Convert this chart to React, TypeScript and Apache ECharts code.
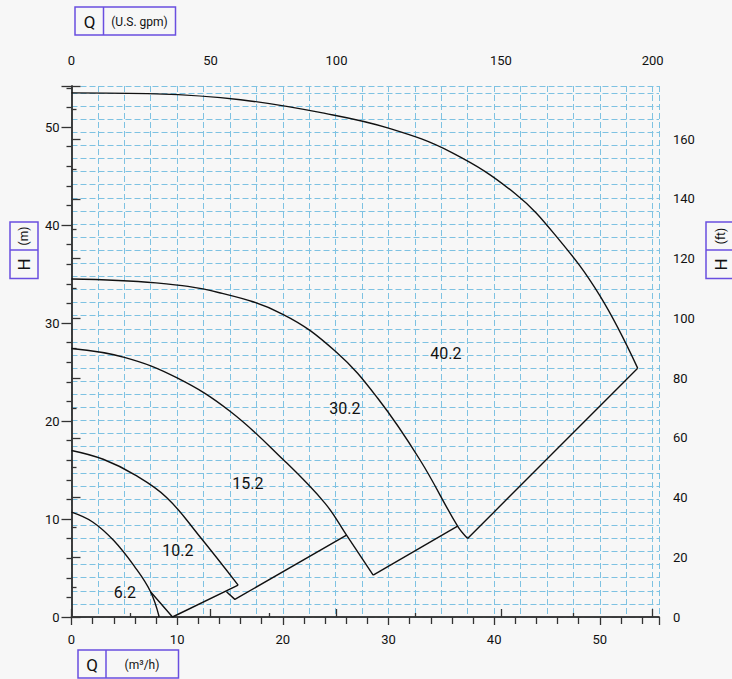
import React, { useEffect, useRef } from "react";
import * as echarts from "echarts";

// Bottom axis: flow Q in m³/h
const qTicks = [0, 10, 20, 30, 40, 50];
// Top axis: flow Q in U.S. gpm, with their positions on the m³/h scale
const gpmMajor = [0, 50, 100, 150, 200];
const gpmMajorAt = [0, 13.15, 25.08, 40.64, 55.0];
const gpmMinorAt = [5.52, 18.68, 32.5, 47.45];
// Left axis H (m), right axis H (ft)
const hTicks = [0, 10, 20, 30, 40, 50];
const ftTicks = [0, 20, 40, 60, 80, 100, 120, 140, 160];

// Pump curves [Q m³/h, H m]
const curve62 = [[0, 10.7], [2, 9.7], [4, 7.8], [6, 5.1], [7.48, 2.58], [8.3, 0]];
const curve102 = [[0, 17.0], [3, 16.1], [6, 14.5], [9, 12.2], [12, 8.4], [15.77, 3.26]];
const curve152 = [[0, 27.4], [5, 26.5], [10, 24.4], [15, 21.0], [20, 16.1], [24, 11.6], [26.03, 8.35], [28.55, 4.28]];
const curve302 = [[0, 34.5], [8, 34.1], [14, 33.1], [20, 30.9], [25, 27.1], [29, 22.3], [33, 16.0], [36.54, 9.27], [37.49, 8.01]];
const curve402 = [[0, 53.5], [8, 53.4], [16, 52.8], [24, 51.4], [30, 49.9], [36, 47.4], [42, 43.2], [46, 38.7], [50, 32.8], [53.58, 25.4]];

// Connecting lines between curve ends [Q, H]
const link1 = [[7.48, 2.58], [9.56, 0], [15.77, 3.26]];
const link2 = [[14.67, 2.58], [15.46, 1.8], [26.03, 8.35]];
const link3 = [[28.55, 4.28], [36.54, 9.27]];
const link4 = [[37.49, 8.01], [53.58, 25.4]];

// Curve labels [Q, H, text]
const curveLabels: [number, number, string][] = [
  [5.05, 2.55, "6.2"],
  [10.06, 6.82, "10.2"],
  [16.69, 13.65, "15.2"],
  [25.87, 21.28, "30.2"],
  [35.43, 26.88, "40.2"],
];

const Q_MAX = 55.6;
const H_MAX = 54.2;
const FT_MAX = 177.8;
const GRID_ROWS = 40.53;

const FONT = "Roboto, 'DejaVu Sans', sans-serif";
const INK = "#111";
const GRIDC = "#7ec2e2";
const BOX = "#6a4fe0";

export default function App() {
  const ref = useRef<HTMLDivElement>(null);
  useEffect(() => {
    if (!ref.current) return;
    const chart = echarts.init(ref.current, undefined, { renderer: "svg" });
    const axisLine = { show: true, lineStyle: { color: "#333", width: 1.5 } };
    const label = { color: INK, fontSize: 13, fontFamily: FONT };
    const curveSeries = (data: number[][]) => ({
      type: "line",
      xAxisIndex: 0,
      yAxisIndex: 0,
      data,
      smooth: 0.4,
      symbol: "none",
      lineStyle: { color: INK, width: 1.4 },
      silent: true,
      z: 5,
    });
    const linkSeries = (data: number[][]) => ({
      type: "line",
      xAxisIndex: 0,
      yAxisIndex: 0,
      data,
      symbol: "none",
      lineStyle: { color: INK, width: 1.4 },
      silent: true,
      z: 5,
    });
    const boxText = (text: string, x: number, y: number, size: number, rot = 0) => ({
      type: "text",
      x,
      y,
      rotation: rot,
      style: { text, fill: INK, fontSize: size, fontFamily: FONT, align: "center", verticalAlign: "middle" },
    });
    const rect = (x: number, y: number, w: number, h: number) => ({
      type: "rect",
      shape: { x, y, width: w, height: h },
      style: { fill: "none", stroke: BOX, lineWidth: 1.5 },
    });
    const line = (x1: number, y1: number, x2: number, y2: number) => ({
      type: "line",
      shape: { x1, y1, x2, y2 },
      style: { stroke: BOX, lineWidth: 1.5 },
    });

    chart.setOption({
      animation: false,
      backgroundColor: "#f7f7f7",
      grid: { left: 71.5, right: 73, top: 86, bottom: 62, containLabel: false, outerBoundsMode: "none" },
      xAxis: [
        {
          type: "value",
          position: "bottom",
          min: 0,
          max: Q_MAX,
          interval: 10,
          axisLine,
          axisTick: { show: true, length: 8, lineStyle: { color: "#333", width: 1.3 } },
          minorTick: { show: true, splitNumber: 5, length: 7, lineStyle: { color: "#333", width: 1.3 } },
          axisLabel: { ...label, margin: 16, showMaxLabel: false, formatter: (v: number) => (qTicks.includes(v) ? String(v) : "") },
          splitLine: { show: false },
        },
        {
          type: "value",
          position: "top",
          min: 0,
          max: Q_MAX,
          axisLine,
          axisTick: { show: true, length: 8, customValues: gpmMajorAt, lineStyle: { color: "#333", width: 1.3 } },
          axisLabel: {
            ...label,
            margin: 19,
            customValues: gpmMajorAt,
            formatter: (v: number) => {
              let best = 0;
              gpmMajorAt.forEach((p, i) => {
                if (Math.abs(p - v) < Math.abs(gpmMajorAt[best] - v)) best = i;
              });
              return String(gpmMajor[best]);
            },
          },
          splitLine: { show: false },
        },
        {
          type: "value",
          position: "top",
          min: 0,
          max: Q_MAX,
          axisLine: { show: false },
          axisTick: { show: true, length: 4, customValues: gpmMinorAt, lineStyle: { color: "#333", width: 1.3 } },
          axisLabel: { show: false },
          splitLine: { show: false },
        },
        {
          type: "value",
          position: "bottom",
          min: 0,
          max: Q_MAX,
          interval: 2.5,
          axisLine: { show: false },
          axisTick: { show: false },
          axisLabel: { show: false },
          splitLine: { show: true, lineStyle: { color: GRIDC, type: [6, 3], width: 1 } },
        },
      ],
      yAxis: [
        {
          type: "value",
          position: "left",
          min: 0,
          max: H_MAX,
          interval: 10,
          axisLine,
          axisTick: { show: true, length: 10, lineStyle: { color: "#333", width: 1.3 } },
          minorTick: { show: true, splitNumber: 5, length: 5, lineStyle: { color: "#333", width: 1.3 } },
          axisLabel: { ...label, margin: 12, formatter: (v: number) => (hTicks.includes(v) ? String(v) : "") },
          splitLine: { show: false },
        },
        {
          type: "value",
          position: "right",
          min: 0,
          max: FT_MAX,
          interval: 20,
          axisLine,
          axisTick: { show: true, length: 9, lineStyle: { color: "#333", width: 1.3 } },
          minorTick: { show: true, splitNumber: 2, length: 5, lineStyle: { color: "#333", width: 1.3 } },
          axisLabel: { ...label, margin: 14, formatter: (v: number) => (ftTicks.includes(v) ? String(v) : "") },
          splitLine: { show: false },
        },
        {
          type: "value",
          position: "left",
          min: 0,
          max: GRID_ROWS,
          interval: 1,
          axisLine: { show: false },
          axisTick: { show: false },
          axisLabel: { show: false },
          splitLine: { show: true, lineStyle: { color: GRIDC, type: [6, 3], width: 1 } },
        },
      ],
      series: [
        curveSeries(curve62),
        curveSeries(curve102),
        curveSeries(curve152),
        curveSeries(curve302),
        curveSeries(curve402),
        linkSeries(link1),
        linkSeries(link2),
        linkSeries(link3),
        linkSeries(link4),
        {
          type: "scatter",
          xAxisIndex: 0,
          yAxisIndex: 0,
          symbolSize: 1,
          silent: true,
          itemStyle: { color: "rgba(0,0,0,0)" },
          data: curveLabels.map((d) => ({ value: [d[0], d[1]], name: d[2] })),
          label: {
            show: true,
            position: "inside",
            formatter: (p: any) => p.name,
            color: INK,
            opacity: 1,
            textBorderWidth: 0,
            fontSize: 16,
            fontFamily: FONT,
          },
          z: 6,
        },
      ],
      graphic: [
        rect(75, 7, 100.5, 28),
        line(103.5, 7, 103.5, 35),
        boxText("Q", 89.5, 21.5, 17),
        boxText("(U.S. gpm)", 139.5, 21.5, 12),
        rect(78, 650, 100.5, 28),
        line(106, 650, 106, 678),
        boxText("Q", 92, 664.5, 17),
        boxText("(m³/h)", 142, 664.5, 12),
        rect(10, 222, 28, 56.5),
        line(10, 250, 38, 250),
        boxText("(m)", 24, 236, 12, Math.PI / 2),
        boxText("H", 24, 264.5, 17, Math.PI / 2),
        rect(706, 222, 30, 56.5),
        line(706, 250, 736, 250),
        boxText("(ft)", 720.5, 236, 12, Math.PI / 2),
        boxText("H", 720.5, 264.5, 17, Math.PI / 2),
      ],
    });
    return () => chart.dispose();
  }, []);
  return (
    <div
      ref={ref}
      style={{ position: "fixed", left: 0, top: 0, width: 732, height: 679, background: "#f7f7f7" }}
    />
  );
}
